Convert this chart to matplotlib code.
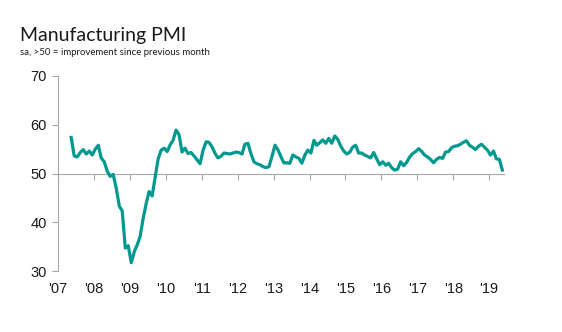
import matplotlib
matplotlib.use('Agg')
import matplotlib.pyplot as plt
import pandas as pd

# Monthly PMI readings, May 2007 - May 2019
pmi_2007 = [57.4, 53.6, 53.4, 54.3, 54.9, 54.0, 54.6, 53.8]
pmi_2008 = [55.0, 55.8, 53.2, 52.4, 50.5, 49.4, 49.8, 47.0, 43.3, 42.3, 34.7, 35.2]
pmi_2009 = [31.7, 34.0, 35.3, 37.1, 40.7, 43.8, 46.3, 45.4, 49.2, 53.0, 54.8, 55.2]
pmi_2010 = [54.5, 55.9, 56.8, 58.9, 58.0, 54.4, 55.2, 54.1, 54.3, 53.6, 52.8, 52.0]
pmi_2011 = [54.8, 56.5, 56.4, 55.5, 54.2, 53.2, 53.5, 54.2, 54.1, 54.0, 54.2, 54.4]
pmi_2012 = [54.3, 54.0, 56.0, 56.2, 54.1, 52.4, 52.0, 51.8, 51.4, 51.2, 51.4, 53.5]
pmi_2013 = [55.8, 54.8, 53.5, 52.2, 52.2, 52.1, 53.8, 53.4, 53.1, 52.1, 53.8, 54.8]
pmi_2014 = [54.2, 56.8, 55.8, 56.3, 56.9, 56.2, 57.2, 56.2, 57.7, 57.0, 55.6, 54.6]
pmi_2015 = [54.0, 54.4, 55.4, 55.8, 54.2, 54.2, 53.8, 53.5, 53.2, 54.3, 53.0, 51.8]
pmi_2016 = [52.4, 51.7, 52.1, 51.2, 50.7, 50.9, 52.4, 51.6, 52.3, 53.4, 54.1, 54.5]
pmi_2017 = [55.1, 54.5, 53.8, 53.4, 52.9, 52.2, 52.9, 53.3, 53.1, 54.4, 54.5, 55.3]
pmi_2018 = [55.6, 55.7, 56.0, 56.4, 56.7, 55.8, 55.4, 54.9, 55.6, 56.0, 55.4, 54.8]
pmi_2019 = [53.8, 54.6, 53.0, 52.9, 50.7]

values = (pmi_2007 + pmi_2008 + pmi_2009 + pmi_2010 + pmi_2011 + pmi_2012 + pmi_2013
          + pmi_2014 + pmi_2015 + pmi_2016 + pmi_2017 + pmi_2018 + pmi_2019)
months = pd.date_range('2007-05-01', periods=len(values), freq='MS') + pd.Timedelta(days=14)

years = list(range(2007, 2020))
year_labels = ["'" + str(y)[2:] for y in years]
y_ticks = [30, 40, 50, 60, 70]

grey = '#a6a6a6'
teal = '#00998f'

plt.rcParams['font.family'] = ['Liberation Sans', 'DejaVu Sans']

fig = plt.figure(figsize=(5.62, 3.32), dpi=100)
ax = fig.add_axes([0.1032, 0.1837, 0.7936, 0.5874])

ax.plot(months, values, color=teal, linewidth=2.3, solid_joinstyle='round', zorder=3)

ax.set_ylim(30, 70)
ax.set_xlim(pd.Timestamp('2007-01-01'), pd.Timestamp('2019-06-01'))
ax.set_yticks(y_ticks)

for s in ['top', 'right']:
    ax.spines[s].set_visible(False)
ax.spines['left'].set_color(grey)
ax.spines['bottom'].set_color(grey)
ax.spines['bottom'].set_position(('data', 50))

ticks = [pd.Timestamp(str(y) + '-01-01') for y in years]
ax.set_xticks(ticks)
ax.tick_params(axis='x', colors=grey, length=4, labelbottom=False)
ax.tick_params(axis='y', colors=grey, length=4, labelcolor='#1a1a1a',
               labelsize=10.5, pad=4)

# labels sit along the bottom of the plot, not on the 50 line
sec = ax.secondary_xaxis(0)
sec.set_xticks(ticks)
sec.set_xticklabels(year_labels)
sec.spines['bottom'].set_visible(False)
sec.tick_params(length=0, pad=8, labelsize=10.5, labelcolor='#1a1a1a')

fig.text(0.036, 0.875, 'Manufacturing PMI', fontsize=14, family='Lato', color='#1a1a1a')
fig.text(0.036, 0.833, 'sa, >50 = improvement since previous month', fontsize=6.9,
         family='Lato', color='#1a1a1a')

fig.savefig('out.png', dpi=100)
